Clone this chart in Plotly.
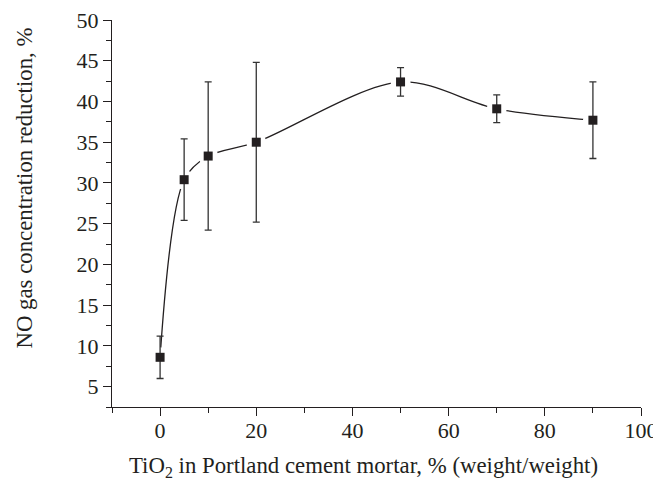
import plotly.graph_objects as go

tio2 = [0, 5, 10, 20, 50, 70, 90]
no_red = [8.6, 30.4, 33.3, 35.0, 42.4, 39.1, 37.7]
err = [2.6, 5.0, 9.1, 9.8, 1.75, 1.7, 4.7]

x_ticks = [0, 20, 40, 60, 80, 100]
y_ticks = [5, 10, 15, 20, 25, 30, 35, 40, 45, 50]

x_title = "TiO<sub>2</sub> in Portland cement mortar, % (weight/weight)"
y_title = "NO gas concentration reduction, %"

INK = "#231f20"
FONT = "Liberation Serif"

fig = go.Figure()
fig.add_trace(go.Scatter(x=tio2, y=no_red, mode="lines",
                         line=dict(shape="spline", smoothing=0.9, color=INK, width=1.3),
                         hoverinfo="skip", showlegend=False))
fig.add_trace(go.Scatter(x=tio2, y=no_red, mode="markers",
                         marker=dict(symbol="circle", size=20, color="white"),
                         hoverinfo="skip", showlegend=False))
fig.add_trace(go.Scatter(x=tio2, y=no_red, mode="markers",
                         marker=dict(symbol="square", size=9, color=INK),
                         error_y=dict(type="data", array=err, visible=True,
                                      color="#333333", thickness=1.3, width=3.5),
                         showlegend=False))

axis_common = dict(ticks="outside", ticklen=8, tickwidth=1.2, tickcolor=INK,
                   showline=True, linecolor=INK, linewidth=1.2,
                   showgrid=False, zeroline=False, automargin=False,
                   ticklabeloverflow="allow",
                   tickfont=dict(family=FONT, size=22, color=INK))

fig.update_layout(
    width=653, height=479,
    margin=dict(l=104, r=19.5, t=12, b=80.3),
    paper_bgcolor="white", plot_bgcolor="white",
    font=dict(family=FONT, size=22, color=INK),
    xaxis=dict(range=[-10, 100], tickvals=x_ticks, ticklabelstandoff=-5,
               minor=dict(dtick=10, tick0=0, ticks="outside", ticklen=5, tickcolor=INK, tickwidth=1.2),
               **axis_common),
    yaxis=dict(range=[2.5, 50], tickvals=y_ticks,
               minor=dict(dtick=2.5, tick0=0, ticks="outside", ticklen=5, tickcolor=INK, tickwidth=1.2),
               **axis_common),
    annotations=[
        dict(text=x_title, xref="paper", yref="paper", x=0.476, y=-0.156,
             xanchor="center", yanchor="middle", showarrow=False,
             font=dict(family=FONT, size=22.8, color=INK)),
        dict(text=y_title, xref="paper", yref="paper", x=-0.166, y=0.565,
             xanchor="center", yanchor="middle", showarrow=False, textangle=-90,
             font=dict(family=FONT, size=22.8, color=INK)),
    ],
)

fig.write_html("out.html")
